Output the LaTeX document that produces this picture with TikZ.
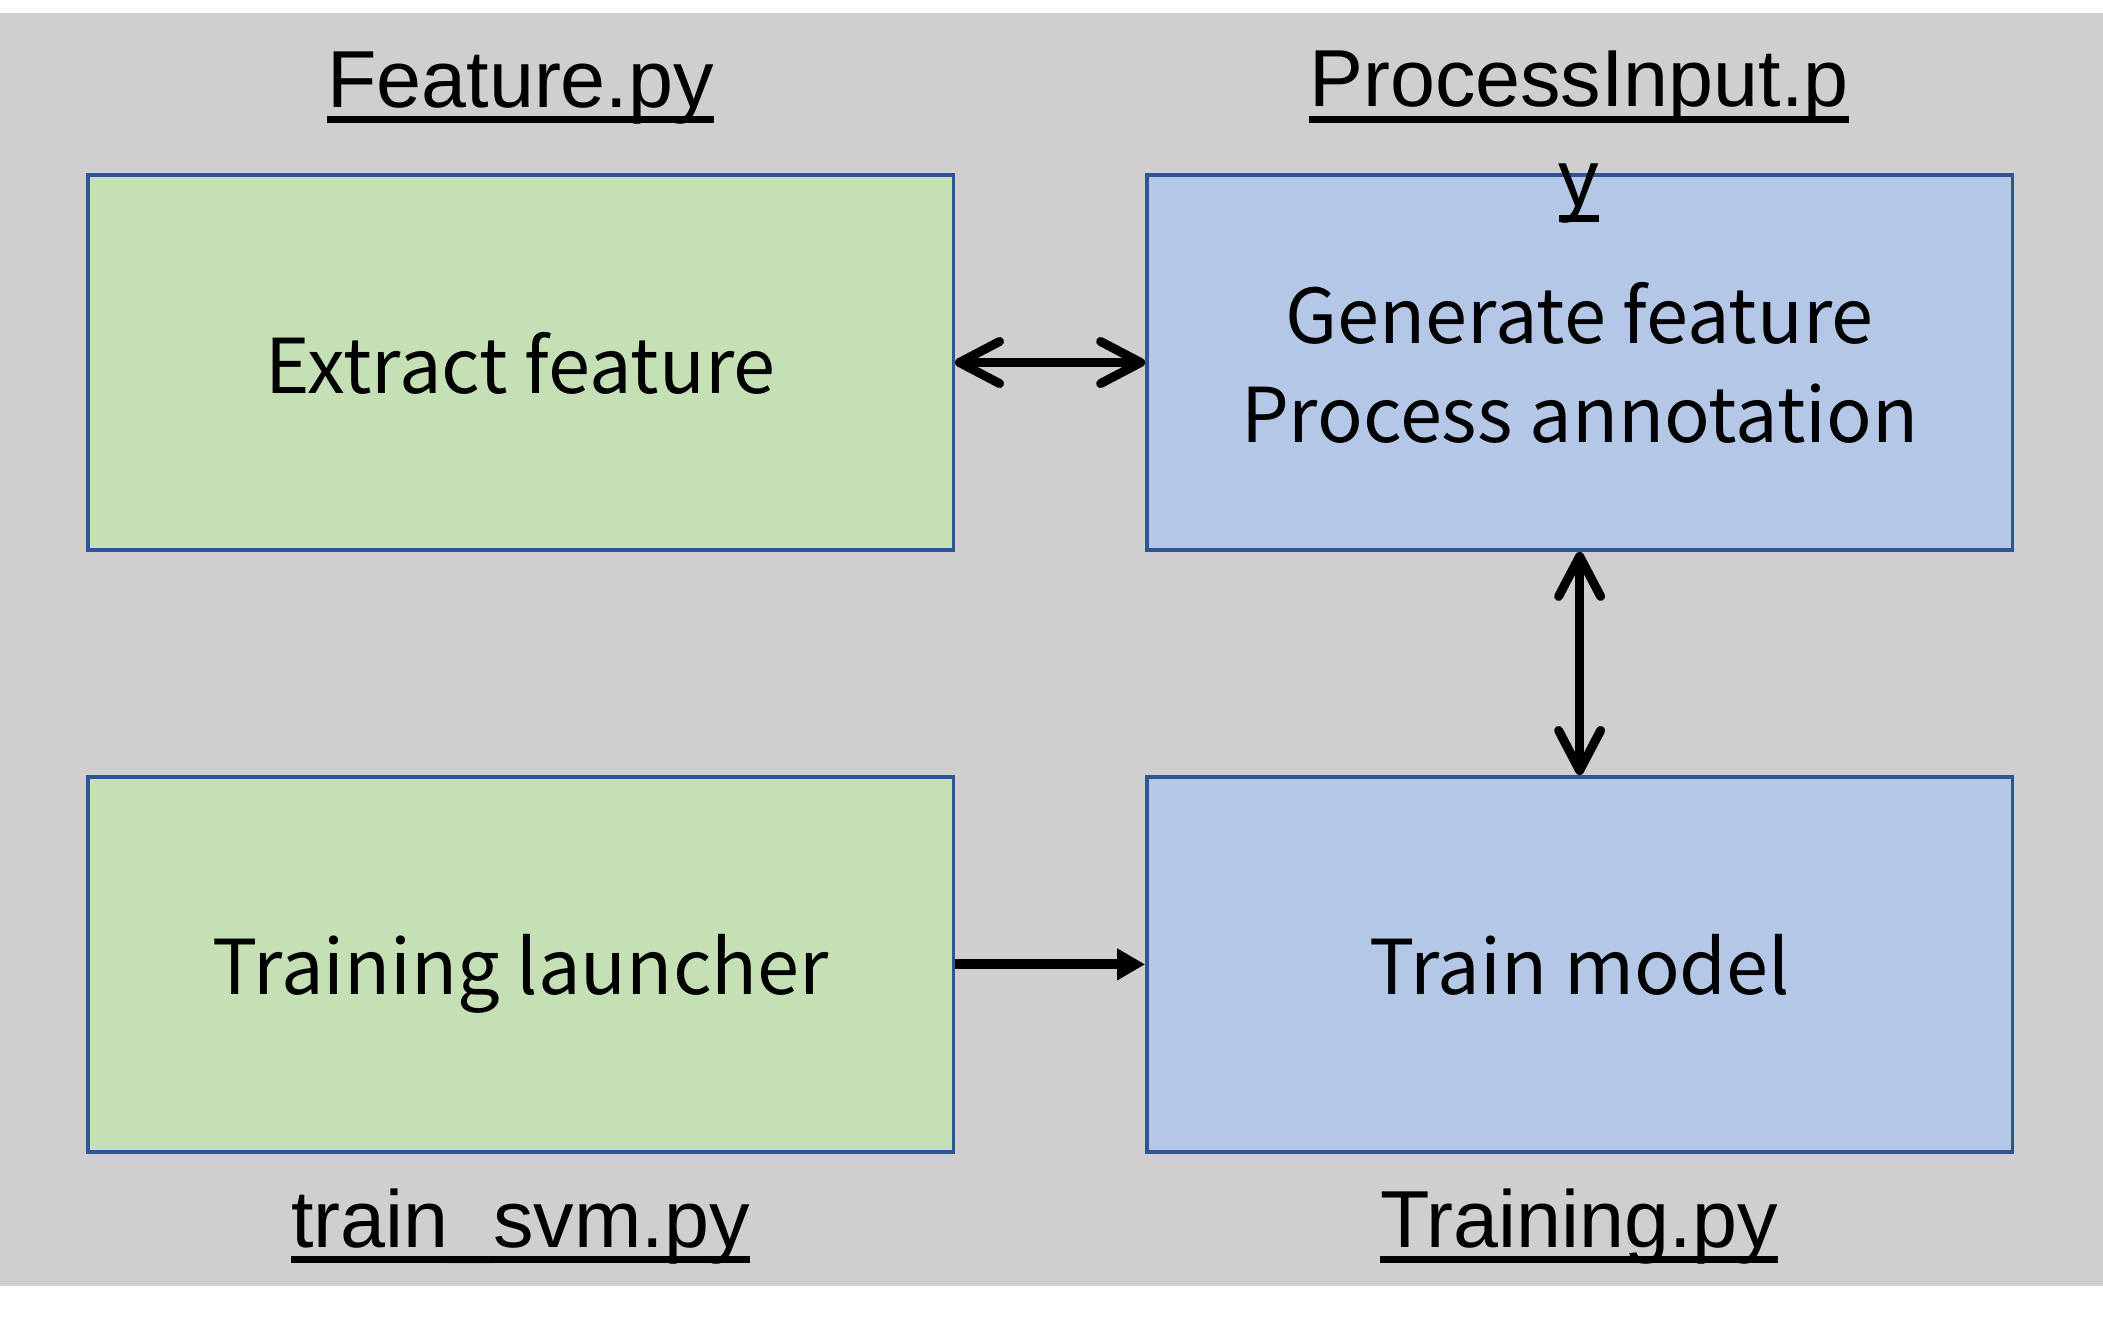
\documentclass[tikz,border=0pt]{standalone}
\usepackage{fontspec}
\setmainfont{Liberation Sans}
\newfontfamily\boxfont{Noto Sans CJK SC}
\usetikzlibrary{arrows.meta,positioning}
\definecolor{bggray}{HTML}{D0CECE}
\definecolor{greenfill}{HTML}{C5E0B4}
\definecolor{bluefill}{HTML}{B4C7E7}
\definecolor{boxedge}{HTML}{2F5597}
\newcommand{\pyline}[1]{\setbox0=\hbox{#1}\rlap{\rule[-0.16cm]{\wd0}{0.07cm}}\box0}

\begin{document}
\begin{tikzpicture}[
  x=0.01cm, y=-0.01cm,
  box/.style={draw=boxedge, line width=0.035cm, minimum width=8.65cm, minimum height=3.75cm,
              align=center, inner sep=0pt, text depth=0pt,
              font=\boxfont\fontsize{21.5}{28.1}\selectfont},
  greenbox/.style={box, fill=greenfill},
  bluebox/.style={box, fill=bluefill},
  pyname/.style={anchor=base, align=center, inner sep=0pt, font=\fontsize{23}{28.2}\selectfont},
  ar/.style={line width=0.1cm, -{Triangle[length=0.28cm, width=0.3cm]}},
  dblar/.style={line width=0.09cm, {Straight Barb[length=0.4cm, width=0.42cm, round]}-{Straight Barb[length=0.4cm, width=0.42cm, round]}},
  node distance=2.23cm and 1.90cm,
]
\useasboundingbox (0,0) rectangle (2103,1320);
\fill[bggray] (0,13) rectangle (2103,1286);

%% ---------- boxes ----------
\node[greenbox] (extract) at (520.5,362.5) {Extract feature};
\node[bluebox, right=of extract] (generate) {Generate feature\\Process annotation};
\node[greenbox, below=of extract] (launch) {Training launcher};
\node[bluebox, below=of generate] (train) {Train model};

%% ---------- file names ----------
\node[pyname] (featpy) at (520.5,107) {\pyline{Feature.py}};
\node[pyname] (procpy) at (1579,206) {\pyline{ProcessInput.p}\\\pyline{y}};
\node[pyname] (svmpy) at (520.5,1247) {\pyline{train\_svm.py}};
\node[pyname] (trainpy) at (1579,1247) {\pyline{Training.py}};

%% ---------- connectors ----------
\draw[dblar] (extract) -- (generate);
\draw[dblar] (generate) -- (train);
\draw[ar] (launch) -- (train);

\end{tikzpicture}
\end{document}
